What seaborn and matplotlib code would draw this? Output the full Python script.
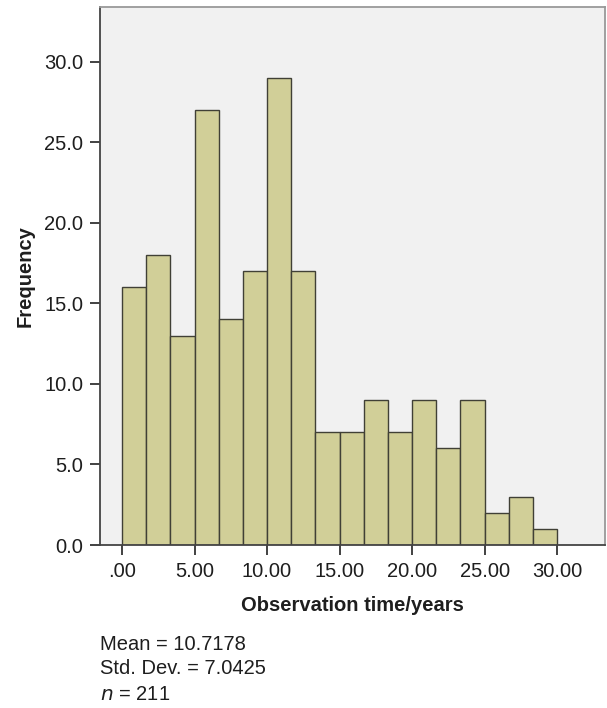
import numpy as np
import pandas as pd
import matplotlib
matplotlib.use("Agg")
import matplotlib.pyplot as plt
import seaborn as sns

bin_edges = [i * 30 / 18 for i in range(19)]
counts = [16, 18, 13, 27, 14, 17, 29, 17, 7, 7, 9, 7, 9, 6, 9, 2, 3, 1]
x_ticks = [0, 5, 10, 15, 20, 25, 30]
x_tick_labels = [".00", "5.00", "10.00", "15.00", "20.00", "25.00", "30.00"]
y_ticks = [0, 5, 10, 15, 20, 25, 30]
y_tick_labels = ["0.0", "5.0", "10.0", "15.0", "20.0", "25.0", "30.0"]
stats_lines = ["Mean = 10.7178", "Std. Dev. = 7.0425"]
n_value = 211

sns.set_theme(style="white")
plt.rcParams['font.family'] = ['Liberation Sans', 'DejaVu Sans']

FS = 14.5
TXT = "#1e1e1e"

edges = np.array(bin_edges)
centers = (edges[:-1] + edges[1:]) / 2
df = pd.DataFrame({"time": centers, "count": counts})

fig = plt.figure(figsize=(6.07, 7.08), dpi=100)
ax = fig.add_axes([0.1647, 0.2302, 0.832, 0.760])
sns.histplot(data=df, x="time", weights="count", bins=list(bin_edges), ax=ax,
             color="#D1CF98", edgecolor="#404036", linewidth=1.0, alpha=1.0)
ax.set_facecolor("#F1F1F1")
ax.set_xlim(-1.52, 33.3)
ax.set_ylim(0, 33.4)
ax.set_xticks(x_ticks)
ax.set_xticklabels(x_tick_labels, fontsize=FS, color=TXT)
ax.set_yticks(y_ticks)
ax.set_yticklabels(y_tick_labels, fontsize=FS, color=TXT)
ax.tick_params(axis='both', which='both', direction='out', length=7, width=1.3,
               color="#333333", bottom=True, left=True, pad=5)
ax.tick_params(axis='x', pad=5)
for s in ["left", "bottom"]:
    ax.spines[s].set_color("#444444")
    ax.spines[s].set_linewidth(1.3)
for s in ["top", "right"]:
    ax.spines[s].set_color("#999999")
    ax.spines[s].set_linewidth(1.3)
ax.set_xlabel("Observation time/years", fontsize=FS, fontweight="bold", color=TXT, labelpad=11)
ax.set_ylabel("Frequency", fontsize=FS, fontweight="bold", color=TXT, labelpad=7)

fig.text(100/607, 1 - 644/708, stats_lines[0], fontsize=FS, color=TXT, va="center", ha="left")
fig.text(100/607, 1 - 669/708, stats_lines[1], fontsize=FS, color=TXT, va="center", ha="left")
fig.text(100/607, 1 - 694/708, r"$\it{n}$ = " + str(n_value), fontsize=FS, color=TXT, va="center", ha="left")

fig.savefig("out.png", dpi=100)
